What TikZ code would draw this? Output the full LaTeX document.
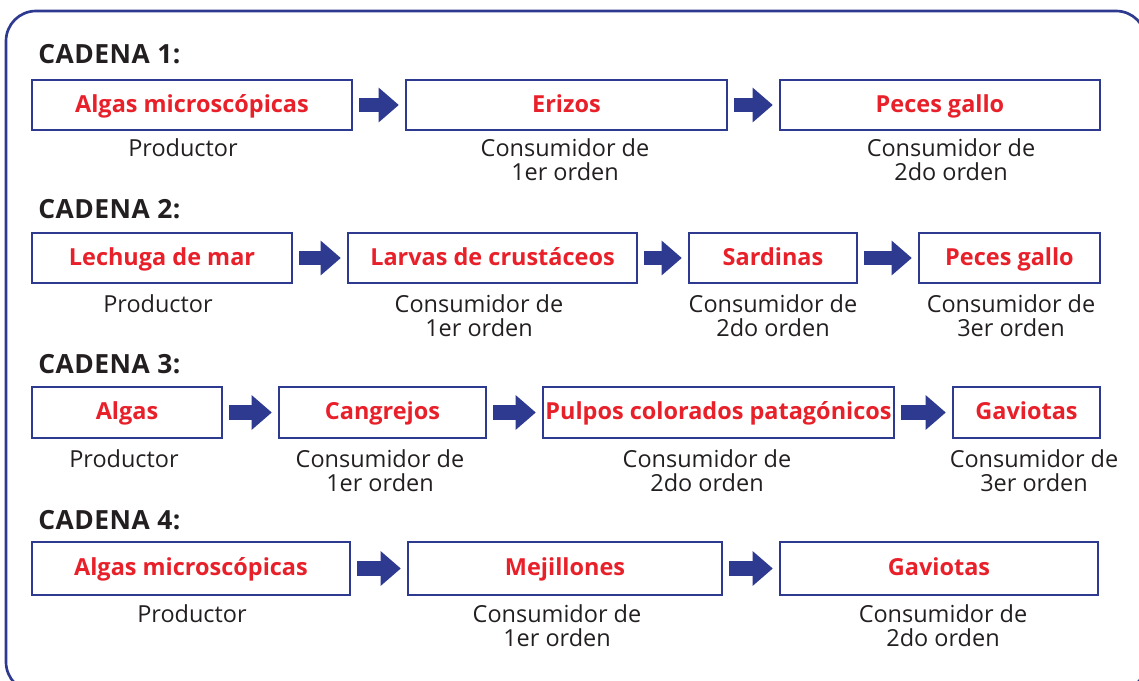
\documentclass[tikz,border=0pt]{standalone}
\usepackage{fontspec}
\setmainfont{Open Sans}
\usetikzlibrary{arrows.meta}
\definecolor{navy}{HTML}{2E3A8F}
\definecolor{redt}{HTML}{E8202A}
\definecolor{blk}{HTML}{231F20}
\newcommand\fsz{\fontsize{17.6pt}{18pt}\selectfont}
\newcommand\tsz{\fontsize{19.8pt}{20pt}\selectfont\addfontfeature{LetterSpace=2}}
\begin{document}
\begin{tikzpicture}[x=0.75pt,y=-0.75pt,
  box/.style={draw=navy, line width=1.9pt, inner sep=0pt, font=\fsz\bfseries, text=redt, text height=11pt, text depth=0pt},
  captxt/.style={anchor=north, inner sep=0pt, align=center, text=blk, font=\fsz},
  ttl/.style={anchor=base west, inner sep=0pt, font=\bfseries\tsz, text=blk},
  flow/.style={draw=navy, line width=11pt, shorten <=4.5pt, shorten >=4.5pt, -{Triangle[length=15pt,width=26pt,line width=0pt]}}]
\useasboundingbox (0,0) rectangle (1139,681);
\clip (0,0) rectangle (1139,681);
\draw[navy, line width=2pt, rounded corners=22.5pt] (6,11) rectangle (1146,692);

% Row 1
\node[ttl] (t1) at (38,64) {CADENA 1:};
\node[box, minimum width=240pt, minimum height=37.5pt] (a1) at (192,105) {Algas microscópicas};
\node[box, minimum width=240.75pt, minimum height=37.5pt] (a2) at (566.5,105) {Erizos};
\node[box, minimum width=240pt, minimum height=37.5pt] (a3) at (940,105) {Peces gallo};
\draw[flow] (a1.east) -- (a2.west);
\draw[flow] (a2.east) -- (a3.west);
\node[captxt] (ca1) at (183,138) {Productor};
\node[captxt] (ca2) at (565,138) {Consumidor de\\1er orden};
\node[captxt] (ca3) at (951,138) {Consumidor de\\2do orden};

% Row 2
\node[ttl] (t2) at (38,219) {CADENA 2:};
\node[box, minimum width=195pt, minimum height=37.5pt] (b1) at (162,258) {Lechuga de mar};
\node[box, minimum width=216.75pt, minimum height=37.5pt] (b2) at (492.5,258) {Larvas de crustáceos};
\node[box, minimum width=126pt, minimum height=37.5pt] (b3) at (773,258) {Sardinas};
\node[box, minimum width=135.75pt, minimum height=37.5pt] (b4) at (1009.5,258) {Peces gallo};
\draw[flow] (b1.east) -- (b2.west);
\draw[flow] (b2.east) -- (b3.west);
\draw[flow] (b3.east) -- (b4.west);
\node[captxt] (cb1) at (158,294) {Productor};
\node[captxt] (cb2) at (479,294) {Consumidor de\\1er orden};
\node[captxt] (cb3) at (773,294) {Consumidor de\\2do orden};
\node[captxt] (cb4) at (1011,294) {Consumidor de\\3er orden};

% Row 3
\node[ttl] (t3) at (38,373) {CADENA 3:};
\node[box, minimum width=142.5pt, minimum height=38.25pt] (c1) at (127,412.5) {Algas};
\node[box, minimum width=155.25pt, minimum height=38.25pt] (c2) at (382.5,412.5) {Cangrejos};
\node[box, minimum width=263.25pt, minimum height=38.25pt] (c3) at (718.5,412.5) {Pulpos colorados patagónicos};
\node[box, minimum width=110.25pt, minimum height=38.25pt] (c4) at (1026.5,412.5) {Gaviotas};
\draw[flow] (c1.east) -- (c2.west);
\draw[flow] (c2.east) -- (c3.west);
\draw[flow] (c3.east) -- (c4.west);
\node[captxt] (cc1) at (124,449) {Productor};
\node[captxt] (cc2) at (380,449) {Consumidor de\\1er orden};
\node[captxt] (cc3) at (707,449) {Consumidor de\\2do orden};
\node[captxt] (cc4) at (1034,449) {Consumidor de\\3er orden};

% Row 4
\node[ttl] (t4) at (38,529) {CADENA 4:};
\node[box, minimum width=238.5pt, minimum height=39.75pt] (d1) at (191,568.5) {Algas microscópicas};
\node[box, minimum width=235.5pt, minimum height=39.75pt] (d2) at (565,568.5) {Mejillones};
\node[box, minimum width=238.5pt, minimum height=39.75pt] (d3) at (939,568.5) {Gaviotas};
\draw[flow] (d1.east) -- (d2.west);
\draw[flow] (d2.east) -- (d3.west);
\node[captxt] (cd1) at (192,604) {Productor};
\node[captxt] (cd2) at (557,604) {Consumidor de\\1er orden};
\node[captxt] (cd3) at (943,604) {Consumidor de\\2do orden};
\end{tikzpicture}
\end{document}
